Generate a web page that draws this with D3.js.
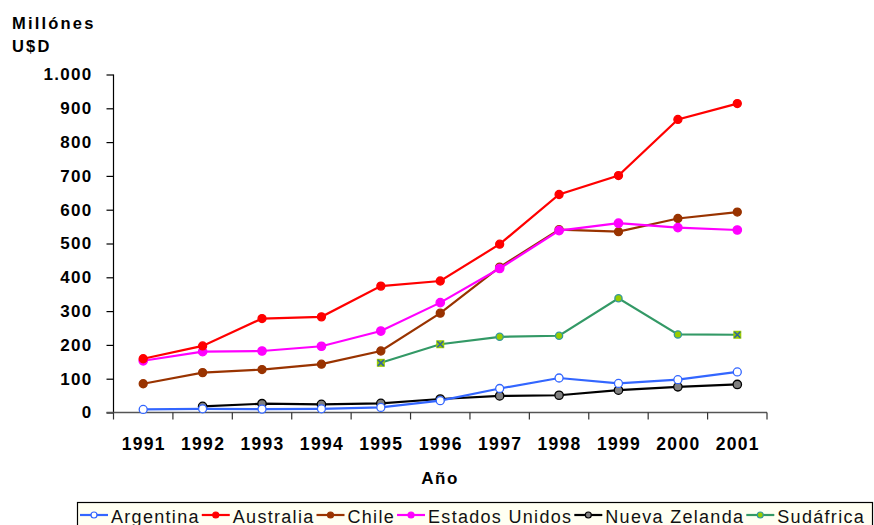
<!DOCTYPE html>
<html>
<head>
<meta charset="utf-8">
<script src="https://cdn.jsdelivr.net/npm/d3@7"></script>
<style>
  html, body { margin: 0; padding: 0; background: #ffffff; }
  svg { display: block; }
</style>
</head>
<body>
<svg id="chart" width="874" height="525"></svg>
<script>
// Exportaciones por país, millones de U$D
const years = ["1991","1992","1993","1994","1995","1996","1997","1998","1999","2000","2001"];
const yTicks = [0, 100, 200, 300, 400, 500, 600, 700, 800, 900, 1000];

const argentina     = [9, 11, 10, 11, 15, 35, 71, 102, 86, 97, 120];
const australia     = [159, 197, 278, 283, 374, 389, 498, 645, 701, 867, 914];
const chile         = [85, 118, 127, 143, 182, 294, 430, 541, 535, 574, 593];
const estadosUnidos = [153, 180, 182, 196, 241, 325, 426, 538, 560, 547, 540];
const nuevaZelanda  = [null, 18, 26, 24, 27, 40, 49, 51, 66, 76, 83];
const sudafrica     = [null, null, null, null, 147, 202, 224, 227, 338, 231, 230];

const seriesNames = ["Argentina", "Australia", "Chile", "Estados Unidos", "Nueva Zelanda", "Sudáfrica"];
const seriesValues = [argentina, australia, chile, estadosUnidos, nuevaZelanda, sudafrica];

// line and marker styling for each series
const styles = [
  { line: "#3366FF", fill: "#FFFFFF", stroke: "#3366FF", r: 4 },
  { line: "#FF0000", fill: "#FF0000", stroke: "#FF0000", r: 4 },
  { line: "#993300", fill: "#993300", stroke: "#993300", r: 4 },
  { line: "#FF00FF", fill: "#FF00FF", stroke: "#FF00FF", r: 4.2 },
  { line: "#000000", fill: "#808080", stroke: "#000000", r: 4.2 },
  { line: "#339966", fill: "#99CC00", stroke: "#339999", r: 3.6 }
];
// points of the Sudáfrica series drawn with the boxed-cross marker
const crossMarkerYears = ["1995", "1996", "2001"];

const svg = d3.select("#chart");
const plotLeft = 113.5, plotRight = 767, plotTop = 74.5, plotBottom = 412.5;

const x = d3.scaleBand().domain(years).range([plotLeft, plotRight]).padding(0);
const y = d3.scaleLinear().domain([0, 1000]).range([plotBottom, plotTop]);
const es = d3.formatLocale({ decimal: ",", thousands: ".", grouping: [3], currency: ["$", ""] });
const fmt = es.format(",d");

const font = "'Liberation Sans', Arial, sans-serif";

// Y axis
const yAxis = svg.append("g")
  .attr("transform", `translate(${plotLeft},0)`)
  .call(d3.axisLeft(y).tickValues(yTicks).tickFormat(fmt).tickSize(7).tickPadding(14));
yAxis.select(".domain").attr("stroke", "#000").attr("stroke-width", 1.2).attr("d", `M0,${plotTop}V${plotBottom}`);
yAxis.selectAll(".tick line").attr("stroke", "#000").attr("stroke-width", 1.2);
yAxis.selectAll(".tick text")
  .attr("font-family", font).attr("font-weight", "bold").attr("font-size", 17)
  .attr("letter-spacing", "1.3px").attr("fill", "#000");

// X axis with ticks between categories
const xAxis = svg.append("g").attr("transform", `translate(0,${plotBottom})`);
xAxis.append("line")
  .attr("x1", plotLeft - 7).attr("x2", plotRight)
  .attr("stroke", "#555").attr("stroke-width", 1.6);
const bounds = years.map(d => x(d)).concat([plotRight]);
xAxis.selectAll("line.tk").data(bounds).join("line").attr("class", "tk")
  .attr("x1", d => d).attr("x2", d => d).attr("y1", 0).attr("y2", 7)
  .attr("stroke", "#333").attr("stroke-width", 1.2);
xAxis.selectAll("text").data(years).join("text")
  .attr("x", d => x(d) + x.bandwidth() / 2 + 0.5)
  .attr("y", 37)
  .attr("text-anchor", "middle")
  .attr("font-family", font).attr("font-weight", "bold").attr("font-size", 17.5)
  .attr("letter-spacing", "1.3px")
  .text(d => d);

// Axis titles
svg.append("text").attr("x", 12).attr("y", 29)
  .attr("font-family", font).attr("font-weight", "bold").attr("font-size", 16.5)
  .attr("letter-spacing", "2.2px").text("Millónes");
svg.append("text").attr("x", 12).attr("y", 52)
  .attr("font-family", font).attr("font-weight", "bold").attr("font-size", 16.5)
  .attr("letter-spacing", "2.2px").text("U$D");
svg.append("text").attr("x", 440).attr("y", 484).attr("text-anchor", "middle")
  .attr("font-family", font).attr("font-weight", "bold").attr("font-size", 17)
  .attr("letter-spacing", "1.5px").text("Año");

// Series lines and markers
const cx = d => x(d) + x.bandwidth() / 2;
const line = d3.line()
  .defined(d => d.v !== null)
  .x(d => cx(d.year))
  .y(d => y(d.v));

function drawMarker(g, st, px, py, cross) {
  if (cross) {
    const s = 4;
    g.append("rect").attr("x", px - s).attr("y", py - s).attr("width", 2 * s).attr("height", 2 * s)
      .attr("fill", st.fill);
    g.append("path").attr("d", `M${px - 3},${py - 3}L${px + 3},${py + 3}M${px - 3},${py + 3}L${px + 3},${py - 3}`)
      .attr("stroke", "#336699").attr("stroke-width", 1.6);
  } else {
    g.append("circle").attr("cx", px).attr("cy", py).attr("r", st.r)
      .attr("fill", st.fill).attr("stroke", st.stroke).attr("stroke-width", 1.3);
  }
}

const plotOrder = [2, 3, 1, 5, 4, 0];
plotOrder.forEach(i => {
  const pts = years.map((yr, j) => ({ year: yr, v: seriesValues[i][j] }));
  const g = svg.append("g");
  g.append("path").datum(pts)
    .attr("d", line)
    .attr("fill", "none")
    .attr("stroke", styles[i].line)
    .attr("stroke-width", 2.2);
  pts.filter(p => p.v !== null).forEach(p => {
    drawMarker(g, styles[i], cx(p.year), y(p.v), i === 5 && crossMarkerYears.includes(p.year));
  });
});

// Legend
const legend = svg.append("g");
legend.append("rect")
  .attr("x", 77.5).attr("y", 502.5).attr("width", 795).attr("height", 30)
  .attr("fill", "#FFFFF2").attr("stroke", "#000").attr("stroke-width", 1.2);
let lx = 80;
const ly = 515;
seriesNames.forEach((name, i) => {
  const st = styles[i];
  legend.append("line").attr("x1", lx).attr("x2", lx + 28).attr("y1", ly).attr("y2", ly)
    .attr("stroke", st.line).attr("stroke-width", 2.2);
  legend.append("circle").attr("cx", lx + 14).attr("cy", ly).attr("r", 3)
    .attr("fill", st.fill).attr("stroke", st.stroke).attr("stroke-width", 1.2);
  const t = legend.append("text").attr("x", lx + 31).attr("y", 522.5)
    .attr("font-family", font).attr("font-size", 18).attr("letter-spacing", "1.3px")
    .attr("fill", "#111").text(name);
  lx += 31 + t.node().getComputedTextLength() + 2;
});
</script>
</body>
</html>
